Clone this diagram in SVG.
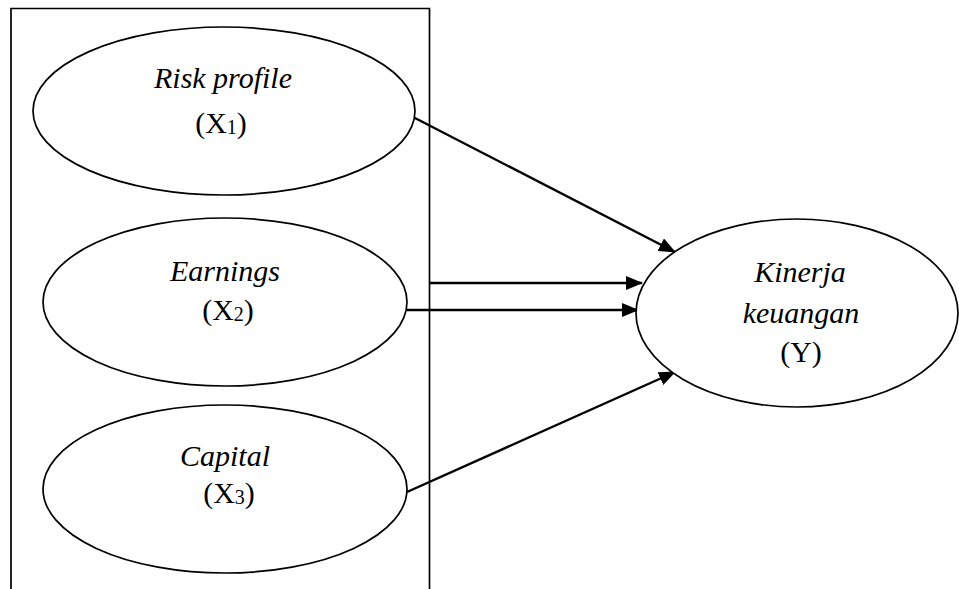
<svg xmlns="http://www.w3.org/2000/svg" width="959" height="589" viewBox="0 0 959 589">
<style>
.e{fill:#fff;stroke:#000;stroke-width:1.7}
.t{font-family:"Liberation Serif","Times New Roman",serif;font-size:30px;fill:#000;text-anchor:middle}
.i{font-style:italic}
.s{font-size:20px}
.c{stroke:#000;stroke-width:2.4;fill:none;marker-end:url(#a)}
</style>
<defs>
<marker id="a" markerWidth="17" markerHeight="14" refX="16" refY="7" orient="auto" markerUnits="userSpaceOnUse">
<path d="M0,0 L17,7 L0,14 Z" fill="#000"/>
</marker>
</defs>
<rect width="959" height="589" fill="#fff"/>
<g id="frame"><path d="M11,589 L11,8.5 L429.5,8.5 L429.5,589" fill="none" stroke="#000" stroke-width="1.7"/></g>
<g id="connectors">
<line class="c" x1="413" y1="117" x2="675" y2="252"/>
<line class="c" x1="429.5" y1="283" x2="642" y2="283"/>
<line class="c" x1="407" y1="310" x2="638" y2="310"/>
<line class="c" x1="407" y1="492" x2="675" y2="372"/>
</g>
<g id="x1">
<ellipse class="e" cx="224" cy="111" rx="191" ry="84"/>
<text class="t i" x="223" y="88">Risk profile</text>
<text class="t" x="221" y="133">(X<tspan class="s" dy="1">1</tspan><tspan dy="-1">)</tspan></text>
</g>
<g id="x2">
<ellipse class="e" cx="225" cy="302" rx="182" ry="84"/>
<text class="t i" x="225" y="281">Earnings</text>
<text class="t" x="228" y="320">(X<tspan class="s" dy="1">2</tspan><tspan dy="-1">)</tspan></text>
</g>
<g id="x3">
<ellipse class="e" cx="225" cy="489" rx="182" ry="84"/>
<text class="t i" x="225" y="466">Capital</text>
<text class="t" x="229" y="503">(X<tspan class="s" dy="1">3</tspan><tspan dy="-1">)</tspan></text>
</g>
<g id="y">
<ellipse class="e" cx="797" cy="313" rx="161" ry="94"/>
<text class="t i" x="800" y="282">Kinerja</text>
<text class="t i" x="801" y="323">keuangan</text>
<text class="t" x="801" y="362">(Y)</text>
</g>
</svg>
